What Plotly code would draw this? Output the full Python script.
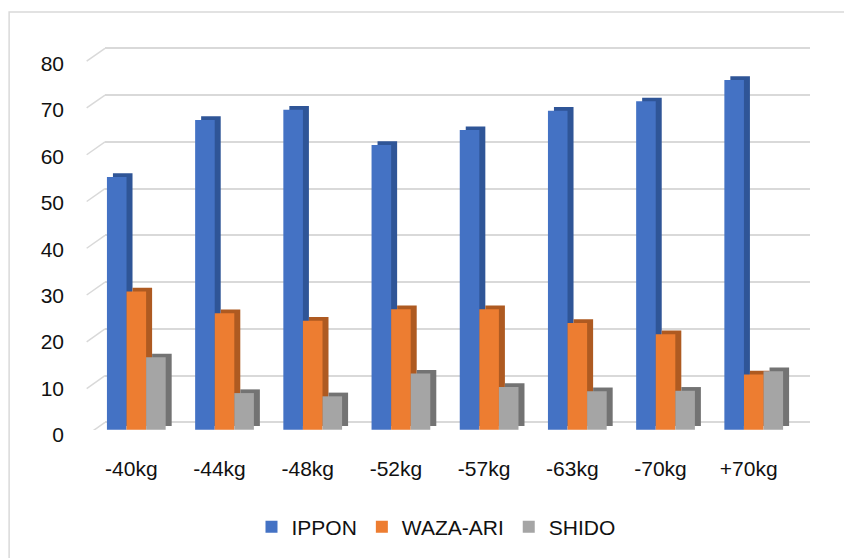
import plotly.graph_objects as go

categories = ["-40kg", "-44kg", "-48kg", "-52kg", "-57kg", "-63kg", "-70kg", "+70kg"]
ippon = [54.5, 66.8, 69.0, 61.4, 64.6, 68.8, 70.8, 75.4]
waza_ari = [29.8, 25.1, 23.5, 26.0, 26.0, 23.0, 20.6, 11.9]
shido = [15.6, 7.9, 7.2, 12.1, 9.2, 8.3, 8.4, 12.6]
y_ticks = [0, 10, 20, 30, 40, 50, 60, 70, 80]

series = [
    ("IPPON", ippon, "#4472C4", "#2F5597"),
    ("WAZA-ARI", waza_ari, "#ED7D31", "#AE5A21"),
    ("SHIDO", shido, "#A5A5A5", "#737373"),
]

FONT = "Liberation Sans, Arial, sans-serif"
FS = 21
W = 0.222      # bar width (category units)
DX = 0.068     # depth offset x (category units)
DY = 0.8       # depth offset y (value units)

fig = go.Figure()
for i, (name, vals, col, dark) in enumerate(series):
    off = (-1.5 + i) * W
    # depth (side + top) drawn as a darker bar behind
    fig.add_trace(go.Bar(x=categories, y=vals, base=DY, offset=off + DX, width=W,
                         marker=dict(color=dark, line=dict(width=0)),
                         showlegend=False, hoverinfo="skip"))
    fig.add_trace(go.Bar(x=categories, y=vals, name=name, offset=off, width=W,
                         marker=dict(color=col, line=dict(width=0))))

# invisible trace to activate the back-wall grid axis
fig.add_trace(go.Scatter(x=[categories[0]], y=[0], yaxis="y2", mode="markers",
                         marker=dict(opacity=0), showlegend=False, hoverinfo="skip"))

shapes = []
for v in y_ticks:
    shapes.append(dict(type="line", xref="paper", yref="y2",
                       x0=-0.026, x1=0, y0=v - 2.77, y1=v,
                       line=dict(color="#D9D9D9", width=1.5), layer="below"))
shapes.append(dict(type="rect", xref="paper", yref="paper",
                   x0=-0.136, x1=1.2, y0=-0.6, y1=1.0716,
                   line=dict(color="#D9D9D9", width=1.5), layer="below"))

fig.update_layout(
    width=844, height=558,
    margin=dict(l=105, r=34, t=40, b=127),
    paper_bgcolor="white", plot_bgcolor="rgba(0,0,0,0)",
    barmode="overlay",
    font=dict(family=FONT, size=FS, color="#111111"),
    showlegend=True,
    legend=dict(orientation="h", x=0.4695, xanchor="center", y=-0.2455, yanchor="middle",
                font=dict(family=FONT, size=FS, color="#111111"), itemwidth=30),
    xaxis=dict(type="category", range=[-0.355, 7.638], showgrid=False, showline=False,
               zeroline=False, ticks="", ticklabelstandoff=24, ticklabelshift=-5,
               tickfont=dict(family=FONT, size=FS, color="#111111")),
    yaxis=dict(range=[-0.06, 84.03], tickvals=y_ticks, showgrid=False, zeroline=False,
               showline=False, ticks="", ticklabelstandoff=40, ticklabelshift=5,
               tickfont=dict(family=FONT, size=FS, color="#111111")),
    yaxis2=dict(range=[-1.64, 81.77], overlaying="y", tickvals=y_ticks, showgrid=True,
                gridcolor="#D9D9D9", gridwidth=1.5, zeroline=False, showticklabels=False,
                ticks="", side="left"),
    shapes=shapes,
)
fig.write_html("out.html", config={"displayModeBar": False},
               post_script="document.body.style.margin='0';document.body.style.overflow='hidden';")
